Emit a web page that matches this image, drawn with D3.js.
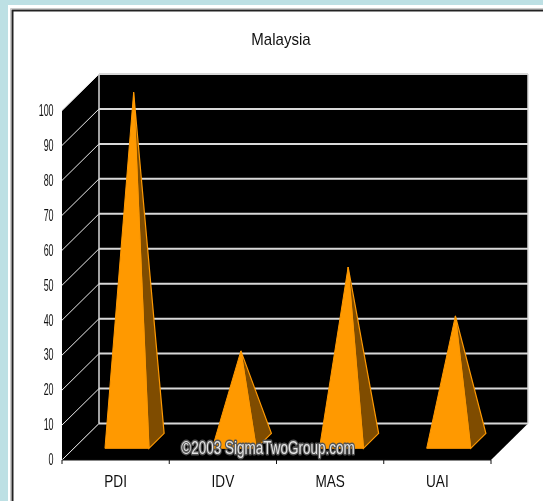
<!DOCTYPE html>
<html><head><meta charset="utf-8">
<script src="https://cdnjs.cloudflare.com/ajax/libs/d3/7.8.5/d3.min.js"></script>
<style>html,body{margin:0;padding:0;background:#bde0e4;overflow:hidden}svg{display:block}
text{font-family:"Liberation Sans",Arial,sans-serif;fill:#111}</style></head><body>
<svg id="c" width="543" height="501"></svg>
<script>
const categories = ["PDI","IDV","MAS","UAI"];
const values = [100,26,50,36];
const tickValues = [0,10,20,30,40,50,60,70,80,90,100];
const titleText = "Malaysia";
const creditText = "©2003 SigmaTwoGroup.com";

const svg = d3.select("#c");
const W=543,H=501;
const x = d3.scaleBand().domain(categories).range([62,491]);
const y = d3.scaleLinear().domain([0,100]).range([460,110.5]);
const dx=37, dy=-36.5;
const at=(px,py,d)=>[px+dx*d,py+dy*d];

// panel
svg.append("rect").attr("x",8).attr("y",5).attr("width",W-8).attr("height",H-5).attr("fill","#fff");
svg.append("path").attr("d",`M12.5,${H}V10.5H${W}`).attr("fill","none").attr("stroke","#222").attr("stroke-width",2);
svg.append("path").attr("d",`M10.5,${H}V8.5H${W}`).attr("fill","none").attr("stroke","#ccc").attr("stroke-width",1);

const g = svg.append("g").style("filter","blur(0.35px)");
const [x0,x1]=x.range(), y0=y(0), y100=y(100);
// walls and floor
const poly=(pts,fill)=>g.append("polygon").attr("points",pts.map(p=>p.join(",")).join(" ")).attr("fill",fill);
poly([[x0,y100],at(x0,y100,1),at(x0,y0,1),[x0,y0]],"#000");
poly([at(x0,y100,1),at(x1,y100,1),at(x1,y0,1),at(x0,y0,1)],"#000");
poly([[x0,y0],[x1,y0],at(x1,y0,1),at(x0,y0,1)],"#000");
// grid
tickValues.forEach(v=>{
  const a=[x0,y(v)],b=at(x0,y(v),1),c=at(x1,y(v),1);
  g.append("line").attr("x1",a[0]).attr("y1",a[1]).attr("x2",b[0]).attr("y2",b[1]).attr("stroke","#eee").attr("stroke-width",1);
  g.append("line").attr("x1",b[0]).attr("y1",b[1]).attr("x2",c[0]).attr("y2",c[1]).attr("stroke","#d8d8d8").attr("stroke-width",2);
});
const bl=at(x0,y0,1),tl=at(x0,y100,1),tr=at(x1,y100,1),br=at(x1,y0,1);
g.append("line").attr("x1",bl[0]).attr("y1",bl[1]).attr("x2",tl[0]).attr("y2",tl[1]).attr("stroke","#d8d8d8").attr("stroke-width",1.5);
g.append("line").attr("x1",br[0]).attr("y1",br[1]).attr("x2",tr[0]).attr("y2",tr[1]).attr("stroke","#d8d8d8").attr("stroke-width",1.5);

// pyramids
const bw=44, dFront=0.32, dBack=0.73, dMid=0.53;
categories.forEach((c,i)=>{
  const cx=x(c)+x.bandwidth()/2-0.5;
  const fl=at(cx-bw/2,y0,dFront), fr=at(cx+bw/2,y0,dFront), bk=at(cx+bw/2,y0,dBack);
  const ap=at(cx,y(values[i]),dMid-0.03);
  g.append("polygon").attr("points",[fr,bk,ap].map(p=>p.join(",")).join(" ")).attr("fill","#7f4c00").attr("stroke","#ff9900").attr("stroke-width",1.2);
  g.append("polygon").attr("points",[fl,fr,ap].map(p=>p.join(",")).join(" ")).attr("fill","#ff9900").attr("stroke","#ff9900").attr("stroke-width",1);
});

// axes
const ax=g.append("g").attr("transform",`translate(0,${y0})`).call(d3.axisBottom(x).tickSize(0));
ax.select(".domain").remove();
ax.append("line").attr("x1",x0).attr("x2",x1).attr("stroke","#111").attr("stroke-width",1);
[...categories.map(c=>x(c)),x1].forEach(t=>ax.append("line").attr("x1",t).attr("x2",t).attr("y1",0).attr("y2",4).attr("stroke","#111"));
ax.selectAll(".tick text").attr("font-size",16).attr("fill","#111").attr("dy",0).attr("y",27).attr("x",0)
  .attr("transform","scale(0.85,1)");
const ay=g.append("g").attr("transform",`translate(${x0},0)`).call(d3.axisLeft(y).tickValues(tickValues).tickSize(0).tickFormat(d3.format("d")));
ay.select(".domain").remove();
ay.selectAll(".tick text").attr("font-size",16).attr("fill","#111").attr("dy","0.3em").attr("transform","scale(0.56,1)").attr("x",-15);

// title
g.append("text").attr("x",281).attr("y",45).attr("text-anchor","middle").attr("font-size",16)
 .attr("transform","translate(281,0) scale(0.94,1) translate(-281,0)").text(titleText);

// credit
g.append("text").attr("x",268).attr("y",454).attr("text-anchor","middle").attr("font-size",18)
 .attr("transform","translate(268,0) scale(0.75,1) translate(-268,0)").text(creditText)
 .style("fill","#e4e4e4").style("paint-order","stroke").attr("stroke","#555").attr("stroke-width",3).attr("stroke-linejoin","round");
</script></body></html>
